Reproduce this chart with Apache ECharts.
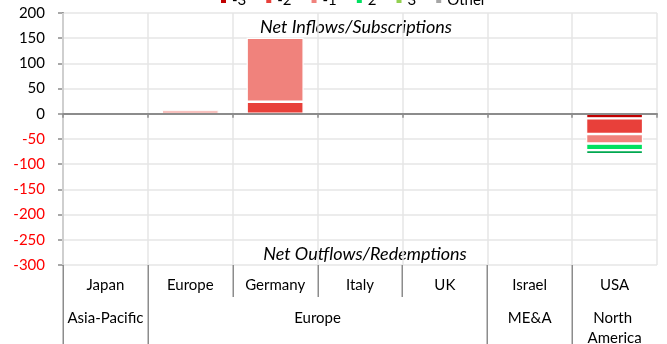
<!DOCTYPE html>
<html>
<head>
<meta charset="utf-8">
<script src="https://cdn.jsdelivr.net/npm/echarts@6/dist/echarts.min.js"></script>
<style>
html,body{margin:0;padding:0;background:#fff;}
#c{width:667px;height:344px;}
</style>
</head>
<body>
<div id="c"></div>
<script>
const categories = ['Japan', 'Europe', 'Germany', 'Italy', 'UK', 'Israel', 'USA'];
const regions = ['Asia-Pacific', 'Europe', 'ME&A', 'North America'];
const regionSpans = [1, 4, 1, 1];
const legendNames = ['-3', '-2', '-1', '2', '3', 'Other'];
const sMinus3 = [null, null, null, null, null, null, -9];
const sMinus2 = [null, null, 24, null, null, null, -31];
const sMinus1 = [null, 7, 127, -5, null, null, -19];
const sPlus2 = [null, null, null, null, null, null, -13];
const sPlus3 = [null, null, null, null, null, null, null];
const sOther = [null, null, null, null, null, null, null];
const sPlus1 = [null, null, null, null, null, null, -8];
const yTicks = { min: -300, max: 200, step: 50 };

const FONT = 'Lato';
const colors = { '-3': '#C00000', '-2': '#E8403A', '-1': '#F0827C', '2': '#00E060', '3': '#92D050', 'Other': '#A6A6A6', '1': '#00A850' };

function bar(name, data) {
  return {
    name: name, type: 'bar', stack: 'total', data: data,
    barWidth: 57,
    itemStyle: { color: colors[name], borderColor: '#ffffff', borderWidth: 1.2 }
  };
}

const chart = echarts.init(document.getElementById('c'));
chart.setOption({
  animation: false,
  textStyle: { fontFamily: FONT },
  grid: { left: 63, right: 10, top: 13, bottom: 79 },
  legend: {
    data: legendNames,
    left: 219, top: -7, padding: 0,
    icon: 'rect', itemWidth: 7, itemHeight: 7, itemGap: 18,
    textStyle: { fontFamily: FONT, fontSize: 15, color: '#000' }
  },
  xAxis: [
    {
      type: 'category', data: categories, position: 'bottom',
      axisLine: { onZero: true, lineStyle: { color: '#8c8c8c', width: 2 } },
      axisTick: { show: true, length: 4, lineStyle: { color: '#8c8c8c', width: 1.5 } },
      axisLabel: { show: false },
      splitLine: { show: true, lineStyle: { color: '#e6e6e6', width: 1.5 } },
      z: 3
    },
    {
      type: 'category', data: categories, position: 'bottom',
      axisLine: { show: false, onZero: false },
      axisTick: { show: false },
      axisLabel: { margin: 13, fontSize: 15, color: '#000', fontFamily: FONT },
      splitLine: { show: false }
    }
  ],
  yAxis: {
    type: 'value', min: yTicks.min, max: yTicks.max, interval: yTicks.step,
    axisLine: { show: true, lineStyle: { color: '#8c8c8c', width: 2 } },
    axisTick: { show: true, length: 5, lineStyle: { color: '#8c8c8c', width: 1.5 } },
    axisLabel: {
      margin: 18, fontSize: 15, fontFamily: FONT,
      color: function (v) { return Number(v) < 0 ? '#FF0000' : '#000000'; }
    },
    splitLine: { show: true, lineStyle: { color: '#e6e6e6', width: 1.5 } }
  },
  series: [
    bar('-3', sMinus3), bar('-2', sMinus2), bar('-1', sMinus1),
    bar('2', sPlus2), bar('3', sPlus3), bar('1', sPlus1), bar('Other', sOther)
  ]
});

// Table of labels under the plot, positioned from the axis scales
const c0 = chart.convertToPixel({ xAxisIndex: 0 }, categories[0]);
const c1 = chart.convertToPixel({ xAxisIndex: 0 }, categories[1]);
const band = c1 - c0;
const bottomY = chart.convertToPixel({ yAxisIndex: 0 }, yTicks.min);
const topY = chart.convertToPixel({ yAxisIndex: 0 }, yTicks.max);
const row1End = bottomY + 32;
const H = 344;
const lineStyle = { stroke: '#8c8c8c', lineWidth: 1.5 };
const g = [];
const fullIdx = [0];
let acc = 0;
regionSpans.forEach(function (s) { acc += s; if (acc < categories.length) fullIdx.push(acc); });
for (let i = 0; i < categories.length; i++) {
  const x = Math.round(chart.convertToPixel({ xAxisIndex: 0 }, categories[i]) - band / 2) + 0.25;
  const full = fullIdx.indexOf(i) >= 0;
  g.push({ type: 'line', shape: { x1: x, y1: bottomY, x2: x, y2: full ? H : row1End }, style: lineStyle, silent: true });
}
acc = 0;
regions.forEach(function (r, k) {
  const first = acc, last = acc + regionSpans[k] - 1;
  acc += regionSpans[k];
  const xa = chart.convertToPixel({ xAxisIndex: 0 }, categories[first]);
  const xb = chart.convertToPixel({ xAxisIndex: 0 }, categories[last]);
  const w = band * regionSpans[k] - 2;
  g.push({
    type: 'text', x: (xa + xb) / 2, y: row1End + 11, silent: true,
    style: {
      text: r, width: w, overflow: 'break', align: 'center', verticalAlign: 'top',
      fontFamily: FONT, fontSize: 15, lineHeight: 20, fill: '#000'
    }
  });
});
const midX = (chart.convertToPixel({ xAxisIndex: 0 }, categories[0]) + chart.convertToPixel({ xAxisIndex: 0 }, categories[categories.length - 1])) / 2;
g.push({
  type: 'text', x: midX - 4, y: topY + 14, silent: true,
  style: { text: 'Net Inflows/Subscriptions', align: 'center', verticalAlign: 'middle', fontFamily: FONT, fontStyle: 'italic', fontSize: 18, fill: '#000' }
});
g.push({
  type: 'text', x: midX + 5, y: bottomY - 11, silent: true,
  style: { text: 'Net Outflows/Redemptions', align: 'center', verticalAlign: 'middle', fontFamily: FONT, fontStyle: 'italic', fontSize: 18, fill: '#000' }
});
chart.setOption({ graphic: g });
</script>
</body>
</html>
